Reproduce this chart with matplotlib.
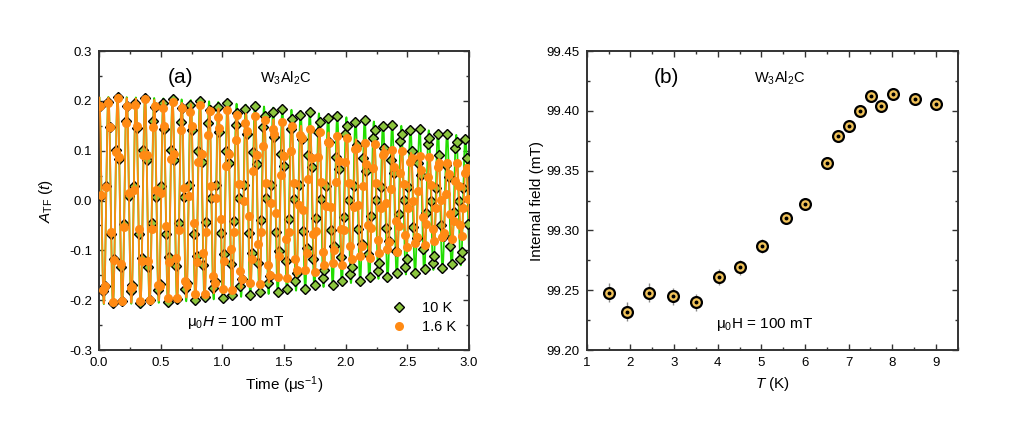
import numpy as np
import matplotlib
matplotlib.use("Agg")
import matplotlib.pyplot as plt
from matplotlib.ticker import MultipleLocator

plt.rcParams['font.family'] = ['Liberation Sans', 'DejaVu Sans']
plt.rcParams['mathtext.fontset'] = 'custom'
plt.rcParams['mathtext.rm'] = 'Liberation Sans'
plt.rcParams['mathtext.it'] = 'Liberation Sans:italic'

# ---------------- Panel (a): TF-muSR asymmetry (fit parameters) ----
bin_width_us = 0.0131          # time bin of the spectra
n_bins = 229                   # number of bins up to 3 us
gamma_mu = 135.54              # MHz/T
field_10K_mT = 99.41
field_1p6K_mT = 99.248
amp_10K = 0.208
sigma_10K = 0.33               # us^-1
amp_1p6K = 0.207
sigma_1p6K = 0.49              # us^-1
phase_deg = -8.0
labels_a = ["10 K", "1.6 K"]

# ---------------- Panel (b): internal field vs temperature --------------------------
T_K = [1.52, 1.92, 2.43, 2.98, 3.50, 4.02, 4.50, 5.01, 5.56, 6.01, 6.50,
       6.76, 7.01, 7.27, 7.52, 7.75, 8.01, 8.52, 9.01]
B_int = [99.248, 99.232, 99.248, 99.245, 99.240, 99.261, 99.269, 99.287,
         99.310, 99.322, 99.356, 99.379, 99.387, 99.400, 99.412, 99.404,
         99.414, 99.410, 99.406]
B_err = [0.008, 0.008, 0.008, 0.007, 0.007, 0.007, 0.006, 0.006, 0.005,
         0.005, 0.004, 0.004, 0.004, 0.004, 0.004, 0.004, 0.004, 0.004, 0.004]


def model(t, amp, sigma, field):
    f = gamma_mu * field / 1000.0
    return amp * np.exp(-0.5 * (sigma * t) ** 2) * np.cos(2 * np.pi * f * t + np.deg2rad(phase_deg))


fig = plt.figure(figsize=(10.35, 4.22), dpi=100)
ax1 = fig.add_axes([0.0957, 0.1706, 0.3575, 0.7085])
ax2 = fig.add_axes([0.5669, 0.1706, 0.3585, 0.7085])

t_data = (np.arange(n_bins) + 0.5) * bin_width_us
t_fit = np.linspace(0, 3.0, 3000)

green_line = '#22dd00'
green_fill = '#8cc63e'
orange = '#ff8a14'

ax1.plot(t_fit, model(t_fit, amp_10K, sigma_10K, field_10K_mT), color=green_line, lw=1.3, zorder=2)
ax1.plot(t_data, model(t_data, amp_10K, sigma_10K, field_10K_mT), 'D', ms=5.2,
         mfc=green_fill, mec='black', mew=1.0, zorder=3, label=labels_a[0])
ax1.plot(t_fit, model(t_fit, amp_1p6K, sigma_1p6K, field_1p6K_mT), color=orange, lw=1.3, zorder=4)
ax1.plot(t_data, model(t_data, amp_1p6K, sigma_1p6K, field_1p6K_mT), 'o', ms=6.5,
         mfc=orange, mec=orange, mew=0, zorder=5, label=labels_a[1])

ax1.set_xlim(0, 3.0)
ax1.set_ylim(-0.3, 0.3)
ax1.xaxis.set_major_locator(MultipleLocator(0.5))
ax1.xaxis.set_minor_locator(MultipleLocator(0.25))
ax1.yaxis.set_major_locator(MultipleLocator(0.1))
ax1.yaxis.set_minor_locator(MultipleLocator(0.05))
ax1.xaxis.set_major_formatter(matplotlib.ticker.FormatStrFormatter('%.1f'))
ax1.yaxis.set_major_formatter(matplotlib.ticker.FuncFormatter(lambda v, p: ('%.1f' % v).replace('-0.0', '0.0')))
ax1.set_xlabel('Time (μs$^{-1}$)', fontsize=11, labelpad=4)
ax1.set_ylabel(r'$A_{\mathrm{TF}}$ $(t)$', fontsize=11, labelpad=10)
ax1.text(0.22, 0.91, '(a)', transform=ax1.transAxes, fontsize=15, ha='center', va='center')
ax1.text(0.505, 0.91, r'W$_3$Al$_2$C', transform=ax1.transAxes, fontsize=10.5, ha='center', va='center')
ax1.text(0.37, 0.093, 'μ$_0$$H$ = 100 mT', transform=ax1.transAxes, fontsize=11, ha='center', va='center')
leg = ax1.legend(loc='lower right', bbox_to_anchor=(0.99, 0.025), frameon=False, fontsize=10.5,
                 handletextpad=0.6, labelspacing=0.3, borderaxespad=0.2)

ax2.errorbar(T_K, B_int, yerr=B_err, fmt='o', ms=7.8, mfc='#f1c35a', mec='black', mew=1.6,
             ecolor='#8a8a8a', elinewidth=1.0, capsize=0, zorder=3)
ax2.plot(T_K, B_int, 'o', ms=1.8, color='black', zorder=4)
ax2.set_xlim(1, 9.5)
ax2.set_ylim(99.20, 99.45)
ax2.xaxis.set_major_locator(MultipleLocator(1))
ax2.xaxis.set_minor_locator(MultipleLocator(0.5))
ax2.yaxis.set_major_locator(MultipleLocator(0.05))
ax2.yaxis.set_minor_locator(MultipleLocator(0.025))
ax2.yaxis.set_major_formatter(matplotlib.ticker.FormatStrFormatter('%.2f'))
ax2.set_xlabel(r'$T$ (K)', fontsize=11, labelpad=4)
ax2.set_ylabel('Internal field (mT)', fontsize=11, labelpad=2)
ax2.text(0.215, 0.91, '(b)', transform=ax2.transAxes, fontsize=15, ha='center', va='center')
ax2.text(0.52, 0.91, r'W$_3$Al$_2$C', transform=ax2.transAxes, fontsize=10.5, ha='center', va='center')
ax2.text(0.48, 0.085, 'μ$_0$H = 100 mT', transform=ax2.transAxes, fontsize=11, ha='center', va='center')

for ax in (ax1, ax2):
    for s in ax.spines.values():
        s.set_linewidth(1.4)
        s.set_color('#333333')
    ax.tick_params(which='both', direction='in', top=True, right=True, labelsize=9.5,
                   color='#333333', width=1.0)
    ax.tick_params(which='major', length=4.5, pad=5)
    ax.tick_params(which='minor', length=2.5)

fig.savefig('out.png', dpi=100)
